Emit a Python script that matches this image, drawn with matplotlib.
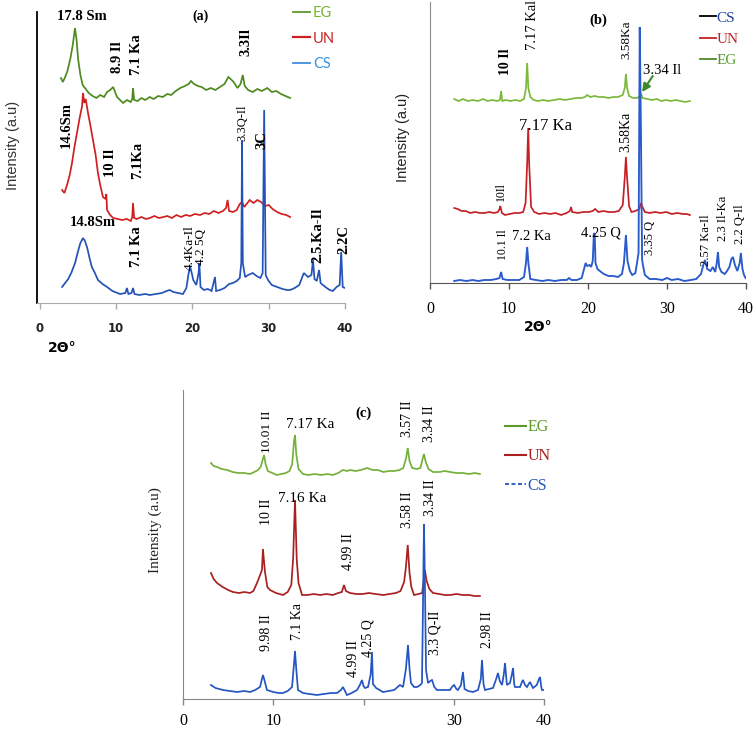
import numpy as np
import matplotlib.pyplot as plt
from matplotlib.lines import Line2D

# XRD patterns, (2theta, intensity a.u.)
#  panel (a)
a_eg = [(2.75,225),(3.0,221),(3.3,226),(3.6,232),(4.0,245),(4.3,258),(4.59,275),(4.8,263),(5.0,244),(5.3,228),
        (5.6,218),(6.0,214),(6.4,210),(6.9,207),(7.4,205),(7.9,208),(8.4,206),(8.8,211),(9.2,213),(9.6,216),
        (10.1,206),(10.5,203),(10.9,200),(11.4,203),(11.9,201),(12.1,204),(12.2,215),(12.35,203),(12.8,202),(13.3,205),
        (13.8,203),(14.4,206),(14.9,204),(15.5,207),(16.1,206),(16.7,209),(17.2,208),(17.8,212),(18.4,215),(19.0,217),
        (19.5,219),(19.8,222),(20.2,219),(20.7,217),(21.2,216),(21.8,213),(22.4,215),(23.0,213),(23.6,216),(24.2,219),
        (24.7,226),(25.0,224),(25.4,221),(25.9,215),(26.3,219),(26.6,228),(26.85,217),(27.3,213),(27.9,211),(28.5,214),
        (29.1,212),(29.8,215),(30.4,211),(31.0,212),(31.6,209),(32.2,207),(32.8,205)]
a_un = [(2.9,113),(3.2,110),(3.55,118),(3.9,128),(4.2,140),(4.5,155),(4.85,170),(5.2,185),(5.5,196),(5.65,210),
        (5.8,200),(6.0,204),(6.3,190),(6.6,178),(6.95,163),(7.3,148),(7.6,130),(7.9,118),(8.26,106),(8.6,104),
        (8.7,109),(8.8,93),(9.2,88),(9.6,85),(10.2,84),(10.8,83),(11.4,84),(11.9,82),(12.1,86),(12.2,100),
        (12.35,85),(12.7,84),(13.3,86),(13.9,84),(14.4,85),(15.0,87),(15.6,85),(16.2,86),(16.7,87),(17.3,85),
        (17.9,88),(18.5,86),(19.1,88),(19.7,87),(20.3,89),(21.0,88),(21.6,90),(22.2,89),(22.8,92),(23.4,90),
        (24.0,92),(24.4,95),(24.6,103),(24.8,92),(25.3,91),(25.8,93),(26.2,99),(26.5,101),(26.8,96),(27.1,99),
        (27.5,103),(28.0,100),(28.5,103),(29.0,101),(29.5,97),(30.0,98),(30.5,94),(31.1,91),(31.7,89),(32.3,88),
        (32.8,86)]
a_cs = [(2.9,16),(3.3,20),(3.7,24),(4.1,30),(4.6,40),(5.0,52),(5.3,60),(5.65,65),(5.9,62),(6.2,55),
        (6.5,45),(6.8,36),(7.2,30),(7.6,23),(8.2,19),(8.8,16),(9.5,12),(10.5,9),(11.2,10),(11.4,15),
        (11.6,9),(12.0,10),(12.2,15),(12.4,9),(13.0,8),(13.8,9),(14.4,8),(15.2,9),(16.0,10),(16.6,12),
        (17.0,13),(17.5,11),(18.1,10),(18.75,9),(19.2,15),(19.5,30),(19.7,36),(19.9,30),(20.1,23),(20.5,18),
        (20.8,30),(20.9,40),(21.05,16),(21.5,13),(22.0,14),(22.3,13),(22.5,12),(22.95,26),(23.1,12),(23.6,13),
        (24.2,15),(24.8,19),(25.3,20),(25.8,22),(26.2,25),(26.4,40),(26.5,163),(26.6,40),(26.9,26),(27.3,28),
        (27.9,30),(28.4,27),(28.9,25),(29.2,30),(29.4,193),(29.6,28),(29.9,23),(30.4,18),(31.1,16),(31.8,14),
        (32.4,13),(32.8,13),(33.4,15),(34.0,18),(34.6,30),(35.15,26),(35.6,28),(35.8,43),(36.0,24),(36.3,22),
        (36.6,33),(36.8,20),(37.1,18),(37.6,15),(38.0,13),(38.4,12),(38.9,16),(39.3,18),(39.5,51),(39.7,16),
        (40.0,15)]

#  panel (b)
b_eg = [(3.07,184),(3.6,182),(4.2,184),(4.8,182),(5.4,183),(6.1,182),(6.7,184),(7.3,182),(7.9,183),(8.5,182),
        (8.85,183),(9.0,192),(9.15,182),(9.6,183),(10.2,182),(10.8,183),(11.4,182),(11.9,184),(12.15,195),(12.3,220),
        (12.45,195),(12.7,186),(13.1,183),(13.7,182),(14.3,183),(15.0,182),(15.7,183),(16.4,184),(17.1,183),(17.8,184),
        (18.5,185),(19.2,185),(19.6,186),(19.9,188),(20.3,186),(20.8,187),(21.4,186),(22.0,186),(22.6,185),(23.2,186),
        (23.8,186),(24.4,188),(24.65,195),(24.8,209),(24.95,195),(25.2,187),(25.7,185),(26.2,185),(26.6,187),(26.75,189),
        (26.9,185),(27.5,184),(28.1,183),(28.7,184),(29.3,182),(29.9,183),(30.5,182),(31.1,183),(31.7,182),(32.3,181),
        (32.9,182)]
b_un = [(3.07,75),(3.5,74),(4.0,72),(4.5,72),(5.1,70),(5.7,71),(6.3,70),(6.9,70),(7.5,71),(8.1,70),
        (8.6,71),(8.8,74),(8.9,77),(9.1,70),(9.5,68),(10.1,69),(10.7,70),(11.3,70),(11.8,71),(12.1,80),
        (12.3,120),(12.43,155),(12.55,120),(12.8,76),(13.2,71),(13.8,69),(14.5,70),(15.2,69),(15.9,70),(16.6,68),
        (17.3,70),(17.7,72),(17.86,76),(18.0,71),(18.7,70),(19.4,71),(20.1,71),(20.6,72),(20.9,74),(21.3,71),
        (22.0,72),(22.6,71),(23.3,71),(23.9,72),(24.4,78),(24.65,105),(24.8,126),(24.95,105),(25.2,77),(25.5,71),
        (26.0,72),(26.5,74),(26.7,80),(26.9,76),(27.2,71),(27.8,70),(28.5,71),(29.2,70),(29.9,71),(30.6,69),
        (31.3,70),(32.0,69),(32.5,69),(32.9,68)]
b_cs = [(3.07,2),(3.8,3),(4.6,2),(5.4,3),(6.1,2),(6.9,3),(7.7,3),(8.4,4),(8.8,5),(9.0,11),
        (9.2,4),(9.8,3),(10.6,3),(11.3,3),(11.9,6),(12.15,20),(12.3,36),(12.45,20),(12.7,4),(13.4,3),
        (14.2,2),(15.0,3),(15.8,2),(16.6,3),(17.3,3),(17.6,5),(17.9,3),(18.6,3),(19.2,5),(19.5,14),
        (19.7,20),(19.9,17),(20.2,18),(20.4,16),(20.6,22),(20.75,50),(20.85,48),(20.95,20),(21.2,14),(21.5,12),
        (22.0,9),(22.6,7),(23.2,7),(23.8,6),(24.3,9),(24.55,20),(24.8,48),(25.0,22),(25.3,12),(25.6,8),
        (26.0,10),(26.2,20),(26.4,30),(26.55,256),(26.7,150),(26.85,23),(27.0,16),(27.2,8),(27.8,4),(28.6,4),
        (29.4,3),(30.0,5),(30.6,3),(31.4,4),(32.2,2),(33.0,3),(33.7,4),(34.3,9),(34.6,18),(34.8,23),
        (35.1,14),(35.5,12),(35.8,16),(36.1,11),(36.3,20),(36.45,31),(36.6,16),(36.9,11),(37.3,9),(37.6,12),
        (37.9,16),(38.15,24),(38.35,26),(38.6,18),(38.9,12),(39.2,20),(39.35,30),(39.55,14),(39.75,8),(39.95,5)]

#  panel (c)
c_eg = [(3.1,236),(3.4,233),(3.77,232),(4.3,230),(4.9,229),(5.5,227),(6.1,226),(6.8,226),(7.42,225),(7.9,227),
        (8.3,229),(8.6,232),(8.85,240),(8.98,244),(9.15,235),(9.4,228),(9.9,226),(10.4,224),(10.9,225),(11.4,226),
        (11.8,228),(12.1,235),(12.3,258),(12.41,264),(12.55,245),(12.8,230),(13.3,225),(13.9,224),(14.6,225),(15.3,224),
        (16.0,225),(16.6,224),(17.2,226),(17.7,229),(18.2,228),(18.5,229),(19.1,228),(19.7,229),(20.4,231),(21.0,229),
        (21.6,229),(22.2,227),(22.8,228),(23.4,228),(24.0,229),(24.4,231),(24.7,240),(24.9,251),(25.1,238),(25.4,231),
        (25.9,230),(26.3,231),(26.55,240),(26.7,245),(26.9,237),(27.2,230),(27.7,227),(28.4,227),(29.0,228),(29.6,227),
        (30.3,226),(31.0,226),(31.7,225),(32.3,226),(32.9,225)]
c_un = [(3.1,126),(3.4,120),(3.77,116),(4.4,112),(5.0,109),(5.54,107),(6.2,106),(6.8,107),(7.42,106),(7.8,108),
        (8.2,116),(8.5,123),(8.75,129),(8.86,150),(9.0,135),(9.1,126),(9.35,112),(9.64,109),(10.3,106),(11.08,104),
        (11.6,107),(12.0,114),(12.2,140),(12.41,199),(12.6,140),(12.8,116),(13.19,104),(13.8,104),(14.5,105),(15.2,104),
        (15.9,105),(16.6,104),(17.2,106),(17.6,107),(17.84,114),(18.05,108),(18.5,106),(19.2,105),(19.9,105),(20.6,106),
        (21.3,105),(22.2,104),(22.9,105),(23.6,106),(24.1,108),(24.5,117),(24.7,132),(24.9,154),(25.1,126),(25.3,112),
        (25.6,104),(26.1,105),(26.5,106),(26.7,120),(26.8,129),(27.0,118),(27.3,110),(27.7,106),(28.4,105),(29.0,104),
        (29.6,104),(30.3,105),(31.0,104),(31.7,104),(32.3,103),(32.9,103)]
c_cs = [(3.1,14),(3.6,11),(4.43,9),(5.2,8),(6.0,7),(6.8,8),(7.42,7),(8.0,9),(8.53,12),(8.86,24),
        (9.05,18),(9.3,9),(10.0,7),(10.6,6),(11.08,6),(11.6,8),(12.08,12),(12.3,35),(12.41,48),(12.55,30),
        (12.74,9),(13.3,6),(14.0,5),(14.85,4),(15.6,5),(16.4,6),(17.06,6),(17.5,9),(17.73,12),(17.95,8),
        (18.17,4),(18.7,6),(19.28,9),(19.6,14),(19.83,19),(20.0,13),(20.17,11),(20.5,12),(20.8,25),(20.94,47),
        (21.05,15),(21.4,11),(22.16,7),(22.8,8),(23.4,9),(24.04,14),(24.38,12),(24.7,30),(24.93,54),(25.1,30),
        (25.26,16),(25.6,12),(25.93,12),(26.3,14),(26.48,16),(26.6,100),(26.7,175),(26.8,120),(26.93,29),(27.15,16),
        (27.4,18),(27.59,19),(27.85,12),(28.14,9),(28.8,9),(29.58,9),(29.8,12),(30.03,14),(30.3,10),(30.47,9),
        (30.8,14),(31.02,27),(31.2,10),(31.6,8),(32.13,7),(32.69,9),(33.0,20),(33.13,39),(33.3,15),(33.46,9),
        (33.9,10),(34.35,11),(34.7,20),(34.9,26),(35.1,18),(35.35,14),(35.55,25),(35.68,36),(35.85,18),(35.9,14),
        (36.23,16),(36.45,25),(36.57,31),(36.7,15),(36.79,12),(37.34,12),(37.6,18),(37.67,19),(37.9,14),(38.12,12),
        (38.3,15),(38.45,17),(38.78,11),(39.2,14),(39.45,20),(39.56,22),(39.7,12),(39.78,9),(40.0,9)]

xticks = [0, 10, 20, 30, 40]
SERIF = "Liberation Serif"
SANS = "Liberation Sans"


def Trace(ax, pts, col, lw=1.25):
    p = np.array(pts)
    ax.plot(p[:, 0], p[:, 1], color=col, linewidth=lw, solid_joinstyle='miter')


def Lbl(ax, x, y, s, size=10, bold=False, rot=90, color='k', family=SERIF):
    ax.text(x, y, s, rotation=rot, ha='center', va='center', fontsize=size,
            fontweight='bold' if bold else 'normal', family=family, color=color)


def Frame(ax, xmin, ymax, lcol, bcol, tfont, tsize, tweight, tcol, labels=None, pad=9):
    ax.set_xlim(xmin, 40)
    ax.set_ylim(0, ymax)
    ax.set_yticks([])
    ax.set_xticks(xticks)
    ax.set_xticklabels(labels if labels else [str(t) for t in xticks],
                       family=tfont, fontsize=tsize, fontweight=tweight, color=tcol)
    ax.tick_params(axis='x', direction='out', length=4, width=1, color=bcol, pad=pad)
    for s in ['top', 'right']:
        ax.spines[s].set_visible(False)
    ax.spines['left'].set_color(lcol)
    ax.spines['bottom'].set_color(bcol)
    ax.patch.set_alpha(0)


fig = plt.figure(figsize=(7.56, 7.31), dpi=100)

# ---------------- (a)
ax = fig.add_axes([37/756, 428/731, 308/756, 291/731])
Frame(ax, -0.39, 291, 'k', '#aaaaaa', 'DejaVu Sans', 8.5, 'bold', '#222222', pad=10)
ax.spines['left'].set_linewidth(1.3)
Trace(ax, a_eg, '#4e8a1e')
Trace(ax, a_un, '#d02020')
Trace(ax, a_cs, '#2352b8')
Lbl(ax, 5.5, 286, "17.8 Sm", 10.5, True, 0)
Lbl(ax, 21.0, 287, "(a)", 10, True, 0)
Lbl(ax, 10.2, 246, "8.9 Il", 10.5, True)
Lbl(ax, 12.6, 248, "7.1 Ka", 10.5, True)
Lbl(ax, 27.0, 261, "3.3Il", 10.5, True)
Lbl(ax, 3.4, 178, "14.6Sm", 10.5, True)
Lbl(ax, 9.2, 140, "10 Il", 10.5, True)
Lbl(ax, 12.85, 143, "7.1Ka", 10.5, True)
Lbl(ax, 26.5, 180, "3.3Q-Il", 9)
Lbl(ax, 29.1, 163, "3C", 10.5, True)
Lbl(ax, 6.95, 80, "14.8Sm", 10.5, True, 0)
Lbl(ax, 12.6, 56, "7.1 Ka", 10.5, True)
Lbl(ax, 19.7, 55, "4.4Ka-Il", 9.5)
Lbl(ax, 21.1, 56, "4.2 5Q", 9.5)
Lbl(ax, 36.5, 68, "2.5.Ka-Il", 10.5, True)
Lbl(ax, 39.9, 63, "2.2C", 10.5, True)
ax.text(0.081, -0.155, "2\u0398\u00b0", transform=ax.transAxes, ha='center', va='center',
        fontsize=10, fontweight='bold', family='DejaVu Sans')
h = [Line2D([], [], color='#5e9a2a', lw=1.3), Line2D([], [], color='#cc2020', lw=1.6),
     Line2D([], [], color='#3b8fdc', lw=1.3)]
ax.legend(h, ["EG", "UN", "CS"], loc='upper left', bbox_to_anchor=(0.83, 1.02), frameon=False,
          handlelength=1.2, handletextpad=0.2, labelspacing=0.78, borderpad=0, borderaxespad=0,
          labelcolor=['#7ab32e', '#cc2020', '#3b8fdc'], prop={'family': 'Lato', 'size': 10.5})

# ---------------- (b)
ax = fig.add_axes([430/756, 448/731, 316/756, 281/731])
Frame(ax, 0, 281, '#8c8c8c', '#555555', SERIF, 11.5, 'normal', 'k', pad=9)
Trace(ax, b_eg, '#7bb93c')
Trace(ax, b_un, '#c42026')
Trace(ax, b_cs, '#2a5bcc', 1.35)
Lbl(ax, 9.5, 221, "10 Il", 10, True)
Lbl(ax, 13.0, 258, "7.17 Kal", 10.5)
Lbl(ax, 21.3, 263, "(b)", 10.5, True, 0)
Lbl(ax, 24.8, 243, "3.58Ka", 9.5)
Lbl(ax, 29.4, 213, "3.34 Il", 10.5, False, 0)
ax.annotate('', xy=(26.85, 191), xytext=(28.2, 207),
            arrowprops=dict(arrowstyle='-|>', color='#3a8a2a', lw=1.5, mutation_scale=12,
                            shrinkA=0, shrinkB=0))
Lbl(ax, 14.6, 157, "7.17 Ka", 12, False, 0)
Lbl(ax, 24.8, 151, "3.58Ka", 10)
Lbl(ax, 9.0, 91, "10Il", 8.5)
Lbl(ax, 9.3, 38, "10.1 Il", 8.5)
Lbl(ax, 12.8, 46, "7.2 Ka", 10.5, False, 0)
Lbl(ax, 21.7, 50, "4.25 Q", 10.5, False, 0)
Lbl(ax, 27.9, 45, "3.35 Q", 9)
Lbl(ax, 34.95, 43, "2.57 Ka-Il", 9)
Lbl(ax, 37.1, 65, "2.3 Il-Ka", 9)
Lbl(ax, 39.2, 59, "2.2 Q-Il", 9)
ax.text(0.342, -0.157, "2\u0398\u00b0", transform=ax.transAxes, ha='center', va='center',
        fontsize=10, fontweight='bold', family='DejaVu Sans')
h = [Line2D([], [], color='k', lw=1.3), Line2D([], [], color='#c42026', lw=1.3),
     Line2D([], [], color='#4f8a2a', lw=1.3)]
ax.legend(h, ["CS", "UN", "EG"], loc='upper left', bbox_to_anchor=(0.854, 0.968), frameon=False,
          handlelength=1.05, handletextpad=0.05, labelspacing=0.5, borderpad=0, borderaxespad=0,
          labelcolor=['#1f3fa8', '#c42026', '#4f9a2a'], prop={'family': SERIF, 'size': 11})

# ---------------- (c)
ax = fig.add_axes([183/756, 32/731, 361/756, 309/731])
Frame(ax, 0, 309, '#888888', '#888888', SERIF, 11.5, 'normal', 'k', ['0', '10', '', '30', '40'], pad=6)
Trace(ax, c_eg, '#74b03a')
Trace(ax, c_un, '#a82020')
Trace(ax, c_cs, '#2455c0')
Lbl(ax, 9.3, 267, "10.01 II", 9.5)
Lbl(ax, 14.1, 274, "7.17 Ka", 11, False, 0)
Lbl(ax, 20.0, 286, "(c)", 10.5, True, 0)
Lbl(ax, 24.9, 280, "3.57 II", 10)
Lbl(ax, 27.3, 275, "3.34 II", 10)
Lbl(ax, 9.3, 187, "10 II", 10)
Lbl(ax, 13.2, 201, "7.16 Ka", 11, False, 0)
Lbl(ax, 18.3, 147, "4.99 II", 10)
Lbl(ax, 24.9, 189, "3.58 II", 10)
Lbl(ax, 27.4, 201, "3.34 II", 10)
Lbl(ax, 9.3, 66, "9.98 II", 10)
Lbl(ax, 12.7, 78, "7.1 Ka", 10)
Lbl(ax, 18.9, 40, "4.99 II", 10)
Lbl(ax, 20.5, 61, "4.25 Q", 10)
Lbl(ax, 27.9, 66, "3.3 Q-II", 10)
Lbl(ax, 33.7, 69, "2.98 II", 10)
h = [Line2D([], [], color='#5e9a2a', lw=1.5), Line2D([], [], color='#a82020', lw=1.5),
     Line2D([], [], color='#2455c0', lw=1.3, linestyle=(0, (2.2, 1.4)))]
ax.legend(h, ["EG", "UN", "CS"], loc='upper left', bbox_to_anchor=(0.892, 0.905), frameon=False,
          handlelength=1.3, handletextpad=0.1, labelspacing=0.82, borderpad=0, borderaxespad=0,
          labelcolor=['#5e9a2a', '#a82020', '#2455c0'], prop={'family': SERIF, 'size': 11.5})

# y labels
fig.text(13/756, 1-145/731, "Intensity (a.u)", rotation=90, ha='center', va='center',
         fontsize=10.5, family=SANS, color='#333333')
fig.text(403/756, 1-137/731, "Intensity (a.u)", rotation=90, ha='center', va='center',
         fontsize=10.5, family=SANS, color='#222222')
fig.text(155/756, 1-530/731, "Intensity (a.u)", rotation=90, ha='center', va='center',
         fontsize=11, family=SERIF, color='#222222')

plt.savefig("out.png", dpi=100)
plt.close()
